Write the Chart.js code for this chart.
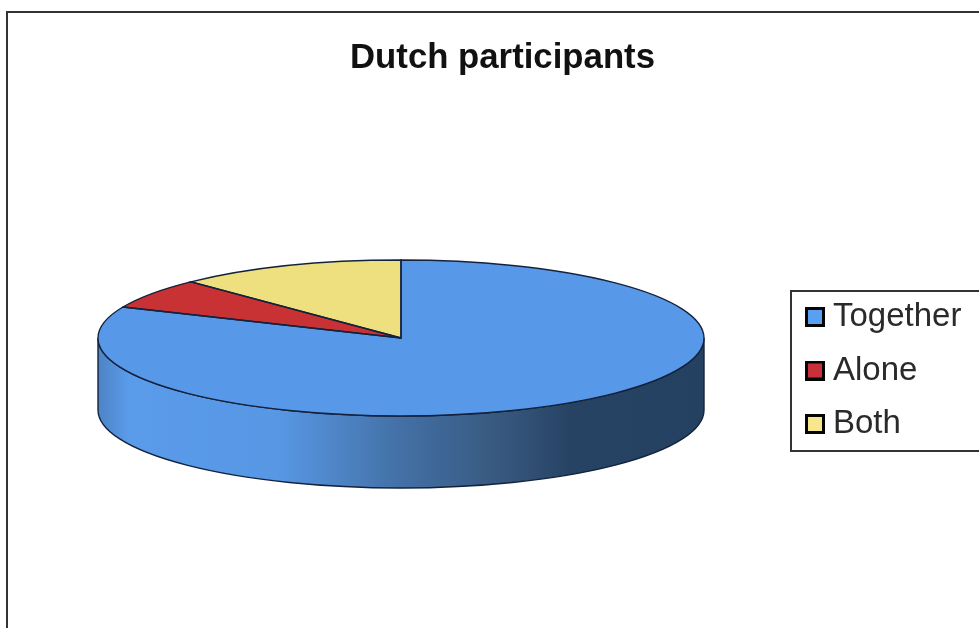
<!DOCTYPE html>
<html>
<head>
<meta charset="utf-8">
<title>Dutch participants</title>
<script src="https://cdn.jsdelivr.net/npm/chart.js@4"></script>
<style>
  html, body { margin: 0; padding: 0; background: #fff; overflow: hidden; }
  canvas { display: block; }
</style>
</head>
<body>
<canvas id="pie" width="979" height="628"></canvas>
<script>
const categories = ['Together', 'Alone', 'Both'];
const shares = [81.5, 6.3, 12.2];

const sliceColors = ['#5898e8', '#c93234', '#eee07f'];
const swatchColors = ['#5aa0f0', '#c8303a', '#f7e88e'];

// the flat pie gets squashed into an ellipse and sits on a wall
const pieCenterY = 338;
const pieRadiusY = 78;
const wallDepth = 72;
const lineColor = '#14223c';

function makeSwatch(color) {
    const c = document.createElement('canvas');
    c.width = 20;
    c.height = 20;
    const g = c.getContext('2d');
    g.fillStyle = '#050505';
    g.fillRect(0, 0, 20, 20);
    g.fillStyle = color;
    g.fillRect(3, 3, 14, 14);
    return c;
}

const swatches = swatchColors.map(makeSwatch);

function squash(ctx, arc) {
    ctx.translate(arc.x, pieCenterY);
    ctx.scale(1, pieRadiusY / arc.outerRadius);
    ctx.translate(-arc.x, -arc.y);
}

function drawWall(ctx, arc) {
    const r = arc.outerRadius;
    const cx = arc.x;
    const grad = ctx.createLinearGradient(cx - r, 0, cx + r, 0);
    grad.addColorStop(0, '#4d83c4');
    grad.addColorStop(0.05, '#5a9bea');
    grad.addColorStop(0.3, '#5797e4');
    grad.addColorStop(0.5, '#4370a5');
    grad.addColorStop(0.66, '#38597f');
    grad.addColorStop(0.78, '#264364');
    grad.addColorStop(1, '#244162');

    ctx.save();
    ctx.beginPath();
    ctx.ellipse(cx, pieCenterY, r, pieRadiusY, 0, 0, Math.PI);
    ctx.ellipse(cx, pieCenterY + wallDepth, r, pieRadiusY, 0, Math.PI, 0, true);
    ctx.closePath();
    ctx.fillStyle = grad;
    ctx.fill();
    ctx.strokeStyle = lineColor;
    ctx.lineWidth = 1.4;
    ctx.stroke();
    ctx.restore();
}

const piePlugin = {
    id: 'flatPie',
    beforeDraw(chart) {
        const ctx = chart.ctx;
        ctx.save();
        ctx.fillStyle = '#fff';
        ctx.fillRect(0, 0, chart.width, chart.height);
        ctx.strokeStyle = '#333';
        ctx.lineWidth = 2;
        ctx.strokeRect(7, 12, chart.width, chart.height);
        ctx.strokeRect(791, 291, chart.width, 160);
        ctx.restore();
    },
    afterLayout(chart) {
        Object.assign(chart.chartArea, { left: 98, right: 704, top: 11, bottom: 617, width: 606, height: 606 });
        Object.assign(chart.titleBlock, { left: 350, right: 655 });
        Object.assign(chart.legend, { left: 793, right: 979, top: 280, bottom: 500 });
    },
    beforeDatasetsDraw(chart) {
        const ctx = chart.ctx;
        const arc = chart.getDatasetMeta(0).data[0];
        drawWall(ctx, arc);
        ctx.save();
        squash(ctx, arc);
    },
    afterDatasetsDraw(chart) {
        const ctx = chart.ctx;
        ctx.restore();
        // outlines are stroked unsquashed so they keep an even width
        chart.getDatasetMeta(0).data.forEach(function (arc) {
            ctx.save();
            ctx.beginPath();
            ctx.save();
            squash(ctx, arc);
            ctx.moveTo(arc.x, arc.y);
            ctx.arc(arc.x, arc.y, arc.outerRadius, arc.startAngle, arc.endAngle);
            ctx.closePath();
            ctx.restore();
            ctx.strokeStyle = lineColor;
            ctx.lineWidth = 1.4;
            ctx.stroke();
            ctx.restore();
        });
    }
};

new Chart(document.getElementById('pie'), {
    type: 'pie',
    data: {
        labels: categories,
        datasets: [{
            data: shares,
            backgroundColor: sliceColors,
            borderWidth: 0
        }]
    },
    options: {
        responsive: false,
        animation: false,
        events: [],
        plugins: {
            title: {
                display: true,
                text: 'Dutch participants',
                color: '#111',
                font: { family: '"Liberation Sans"', size: 35, weight: 'bold' },
                padding: { top: 37, bottom: 10 }
            },
            legend: {
                display: true,
                position: 'right',
                align: 'start',
                labels: {
                    color: '#2a2a2a',
                    font: { family: '"Liberation Sans"', size: 33 },
                    usePointStyle: true,
                    pointStyleWidth: 3,
                    boxHeight: 20,
                    padding: 20.5,
                    generateLabels(chart) {
                        return Chart.overrides.pie.plugins.legend.labels.generateLabels(chart).map(function (item, i) {
                            item.pointStyle = swatches[i];
                            return item;
                        });
                    }
                }
            },
            tooltip: { enabled: false }
        }
    },
    plugins: [piePlugin]
});
</script>
</body>
</html>
